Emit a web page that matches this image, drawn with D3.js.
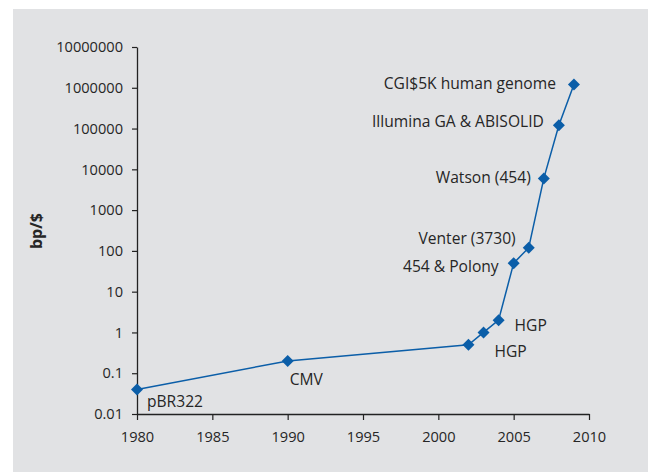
<!DOCTYPE html>
<html>
<head>
<meta charset="utf-8">
<script src="https://cdn.jsdelivr.net/npm/d3@7"></script>
<style>
  body { margin: 0; background: #fff; }
  text { font-family: "Open Sans", sans-serif; fill: #262626; }
</style>
</head>
<body>
<div id="chart"></div>
<script>
// data
const years   = [1980, 1990, 2002, 2003, 2004, 2005, 2006, 2007, 2008, 2009];
const bpPerUs = [0.04, 0.2, 0.5, 1, 2, 50, 120, 6000, 120000, 1200000];
const labels  = ["pBR322", "CMV", "HGP", "", "HGP", "454 & Polony", "Venter (3730)",
                 "Watson (454)", "Illumina GA & ABISOLID", "CGI$5K human genome"];
const yTicks  = [0.01, 0.1, 1, 10, 100, 1000, 10000, 100000, 1000000, 10000000];
const xTicks  = [1980, 1985, 1990, 1995, 2000, 2005, 2010];

// label placement relative to its point: [dx, dy, anchor]
const labelPos = [
  [10, 18, "start"], [2, 24, "start"], [26, 12, "start"], [0, 0, "start"],
  [16, 11, "start"], [-15, 9, "end"], [-13, -4, "end"], [-13, 5, "end"],
  [-15, 2, "end"], [-18, 4, "end"]
];

const data = years.map((y, i) => ({ year: y, value: bpPerUs[i], label: labels[i], pos: labelPos[i] }));

const width  = 648;
const height = 472;
const margin = { top: 47, right: 59, bottom: 58, left: 137 };
const innerWidth  = width  - margin.left - margin.right;
const innerHeight = height - margin.top  - margin.bottom;

const svg = d3.select("#chart")
  .append("svg")
  .attr("width", width)
  .attr("height", height);

// grey panel
svg.append("rect")
  .attr("x", 13)
  .attr("y", 9)
  .attr("width", width - 13)
  .attr("height", height - 9)
  .attr("fill", "#e1e2e4");

const innerChart = svg.append("g")
  .attr("transform", `translate(${margin.left}, ${margin.top})`);

const xScale = d3.scaleLinear()
  .domain([1980, 2010])
  .range([0, innerWidth]);

const yScale = d3.scaleLog()
  .domain([0.01, 10000000])
  .range([innerHeight, 0]);

const xAxis = innerChart.append("g")
  .attr("transform", `translate(0, ${innerHeight})`)
  .call(d3.axisBottom(xScale).tickValues(xTicks).tickFormat(d3.format("d")).tickSize(6).tickSizeOuter(0));

const yAxis = innerChart.append("g")
  .call(d3.axisLeft(yScale).tickValues(yTicks).tickFormat(d => d >= 1 ? d3.format("d")(d) : String(d)).tickSize(5).tickSizeOuter(0));

[xAxis, yAxis].forEach(ax => {
  ax.attr("font-family", null).attr("font-size", null);
  ax.select(".domain").attr("stroke", "#222").attr("stroke-width", 1.3);
  ax.selectAll(".tick line").attr("stroke", "#222").attr("stroke-width", 1.2);
  ax.selectAll(".tick text")
    .style("font-size", "14.6px")
    .attr("fill", "#262626");
});
xAxis.selectAll(".tick text").attr("dy", "1.3em");
yAxis.selectAll(".tick text").attr("x", -14);

innerChart.append("text")
  .attr("transform", "rotate(-90)")
  .attr("x", -(231 - margin.top))
  .attr("y", 42 - margin.left)
  .attr("text-anchor", "middle")
  .style("font-size", "16px")
  .style("font-weight", "bold")
  .text("bp/$");

const lineGenerator = d3.line()
  .x(d => xScale(d.year))
  .y(d => yScale(d.value));

innerChart.append("path")
  .datum(data)
  .attr("fill", "none")
  .attr("stroke", "#0b5ea8")
  .attr("stroke-width", 1.5)
  .attr("d", lineGenerator);

const diamond = d3.symbol(d3.symbolSquare, 72);
innerChart.selectAll(".dot")
  .data(data)
  .join("path")
    .attr("class", "dot")
    .attr("d", diamond)
    .attr("fill", "#0b5ea8")
    .attr("transform", d => `translate(${xScale(d.year)}, ${yScale(d.value)}) rotate(45)`);

innerChart.selectAll(".point-label")
  .data(data.filter(d => d.label))
  .join("text")
    .attr("class", "point-label")
    .attr("x", d => xScale(d.year) + d.pos[0])
    .attr("y", d => yScale(d.value) + d.pos[1])
    .attr("text-anchor", d => d.pos[2])
    .style("font-size", "15.6px")
    .text(d => d.label);
</script>
</body>
</html>
